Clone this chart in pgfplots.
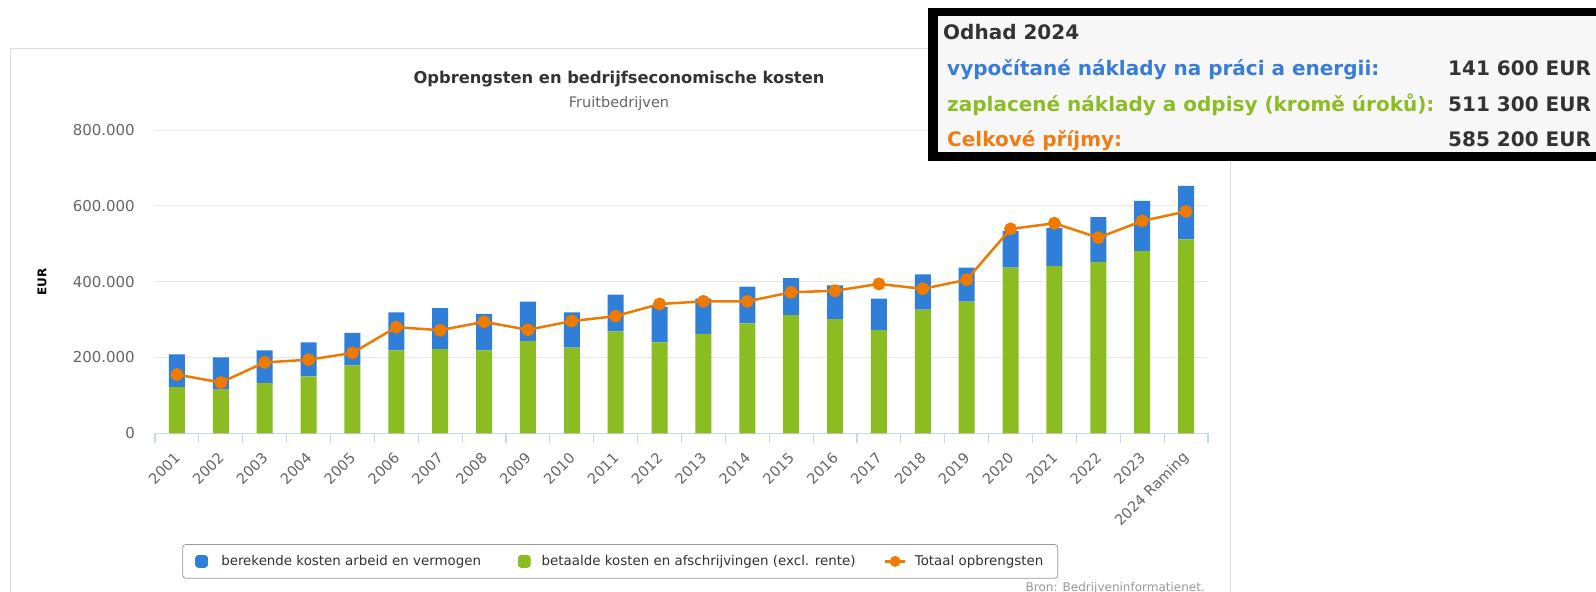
\documentclass[border=0pt]{standalone}
\usepackage{fontspec}
\setmainfont{DejaVu Sans}
\usepackage{pgfplots}
\pgfplotsset{compat=1.18}
\definecolor{cblue}{HTML}{2F7ED8}
\definecolor{cgreen}{HTML}{8BBC21}
\definecolor{corange}{HTML}{EF7A00}
\definecolor{cax}{HTML}{CCD6EB}
\definecolor{cgrid}{HTML}{E6E6E6}
\definecolor{clab}{HTML}{666666}
\definecolor{ctitle}{HTML}{333333}
\definecolor{tblue}{HTML}{3A7DD8}
\definecolor{tgreen}{HTML}{8CBD24}
\definecolor{torange}{HTML}{F27B12}
\definecolor{ovbg}{HTML}{F7F7F7}
\newcommand{\fs}[1]{\fontsize{#1bp}{#1bp}\selectfont}
\begin{document}
\begin{tikzpicture}
\useasboundingbox (0,0) rectangle (1596bp,592bp);
\clip (0,0) rectangle (1596bp,592bp);
\fill[white] (0,0) rectangle (1596bp,592bp);
\draw[color=black!13, line width=1bp] (10bp,-5bp) -- (10bp,543bp) -- (1230bp,543bp) -- (1230bp,-5bp);
\node[anchor=base, text=ctitle, font=\bfseries\fs{16.3}, inner sep=0pt] at (619bp,508bp) {Opbrengsten en bedrijfseconomische kosten};
\node[anchor=base, text=clab, font=\fs{14.5}, inner sep=0pt] at (619bp,484bp) {Fruitbedrijven};
\node[rotate=90, font=\bfseries\fs{12}, text=black, inner sep=0pt] at (42bp,310bp) {EUR};

\begin{axis}[
  at={(155bp,158.7bp)}, anchor=south west, scale only axis,
  width=1053bp, height=303.3bp,
  xmin=-0.5, xmax=23.5, ymin=0, ymax=800,
  axis x line*=bottom, axis y line*=left,
  x axis line style={draw=cax, line width=1.2bp, -},
  y axis line style={draw=none},
  xtick={0,1,...,23},
  xticklabels={2001,2002,2003,2004,2005,2006,2007,2008,2009,2010,2011,2012,2013,2014,2015,2016,2017,2018,2019,2020,2021,2022,2023,2024 Raming},
  major tick length=0pt,
  minor xtick={-0.5,0.5,...,23.5},
  minor tick length=10bp,
  tick align=outside,
  minor x tick style={draw=cax, line width=1.2bp},
  ytick={0,200,400,600,800},
  yticklabels={0,200.000,400.000,600.000,800.000},
  ytick style={draw=none},
  ymajorgrids, grid style={draw=cgrid, line width=1bp},
  yticklabel style={font=\fs{15}, text=clab, anchor=east, inner sep=0pt, xshift=-20bp},
  xticklabel style={xshift=0.5bp, yshift=-22bp, font=\fs{14.5}, text=clab, rotate=45, anchor=east, inner sep=0pt},
  ybar stacked, bar width=16bp,
  clip=false,
]
% betaalde kosten en afschrijvingen (excl. rente), thousand EUR
\addplot[fill=cgreen, draw=none] coordinates {
(0,122) (1,115) (2,133) (3,150) (4,179) (5,219) (6,222) (7,219) (8,243) (9,226) (10,269) (11,240)
(12,262) (13,290) (14,312) (15,301) (16,272) (17,326) (18,347) (19,437) (20,441) (21,452) (22,481) (23,511.3)};
% berekende kosten arbeid en vermogen, thousand EUR
\addplot[fill=cblue, draw=none] coordinates {
(0,86) (1,85) (2,86) (3,90) (4,86) (5,100) (6,108) (7,96) (8,104) (9,93) (10,97) (11,94)
(12,93) (13,97) (14,97) (15,89) (16,83) (17,93) (18,90) (19,96) (20,100) (21,118) (22,132) (23,141.6)};
\end{axis}

\begin{axis}[
  at={(155bp,158.7bp)}, anchor=south west, scale only axis,
  width=1053bp, height=303.3bp,
  xmin=-0.5, xmax=23.5, ymin=0, ymax=800,
  hide axis, clip=false,
  legend columns=3,
  legend cell align=left,
  legend style={at={(0.4418,-0.4224)}, anchor=center, draw=black!40, line width=0.8bp,
    rounded corners=3bp, fill=white, font=\fs{13.4}, text=ctitle,
    inner xsep=12.5bp, inner ysep=9bp,
    /tikz/column 1/.append style={column sep=11.3bp},
    /tikz/column 2/.append style={column sep=34.8bp},
    /tikz/column 3/.append style={column sep=9bp},
    /tikz/column 4/.append style={column sep=26.4bp},
    /tikz/column 5/.append style={column sep=6.4bp}},
]
\addplot[color=corange, line width=2.5bp, mark=*, mark size=5.2bp, mark options={fill=corange, draw=none}, forget plot] coordinates {
(0,155) (1,134) (2,187) (3,194) (4,212) (5,280) (6,272) (7,294) (8,273) (9,296) (10,309) (11,341)
(12,348) (13,348) (14,372) (15,376) (16,394) (17,381) (18,405) (19,539) (20,554) (21,516) (22,560) (23,585.2)};
\addlegendimage{legend image code/.code={\fill[cblue] (0bp,-6bp) rectangle (12bp,6bp);}}
\addlegendentry{berekende kosten arbeid en vermogen}
\addlegendimage{legend image code/.code={\fill[cgreen] (0bp,-6bp) rectangle (12bp,6bp);}}
\addlegendentry{betaalde kosten en afschrijvingen (excl. rente)}
\addlegendimage{legend image code/.code={\draw[corange, line width=2.5bp] (0bp,0bp) -- (20bp,0bp); \fill[corange] (10bp,0bp) circle (5bp);}}
\addlegendentry{Totaal opbrengsten}
\end{axis}

\node[anchor=base east, text=black!40, font=\fs{12}, inner sep=0pt] at (1205bp,0.5bp) {Bron: Bedrijveninformatienet.};

% overlay box
\fill[black] (928bp,431.3bp) rectangle (1600bp,584bp);
\fill[ovbg] (938bp,440.3bp) rectangle (1600bp,576bp);
\node[anchor=base west, inner sep=0pt, font=\bfseries\fs{20}, text=ctitle] at (943bp,552bp) {Odhad 2024};
\node[anchor=base west, inner sep=0pt, font=\bfseries\fs{20}, text=tblue] at (947bp,516bp) {vypočítané náklady na práci a energii:};
\node[anchor=base west, inner sep=0pt, font=\bfseries\fs{20}, text=tgreen] at (947bp,480.3bp) {zaplacené náklady a odpisy (kromě úroků):};
\node[anchor=base west, inner sep=0pt, font=\bfseries\fs{20}, text=torange] at (947bp,445.3bp) {Celkové příjmy:};
\node[anchor=base west, inner sep=0pt, font=\bfseries\fs{20}, text=ctitle] at (1448bp,516bp) {141 600 EUR};
\node[anchor=base west, inner sep=0pt, font=\bfseries\fs{20}, text=ctitle] at (1448bp,480.3bp) {511 300 EUR};
\node[anchor=base west, inner sep=0pt, font=\bfseries\fs{20}, text=ctitle] at (1448bp,445.3bp) {585 200 EUR};
% re-draw inner bottom edge so descenders are cut like in the reference
\fill[black] (928bp,431.3bp) rectangle (1600bp,440.3bp);
\end{tikzpicture}
\end{document}
